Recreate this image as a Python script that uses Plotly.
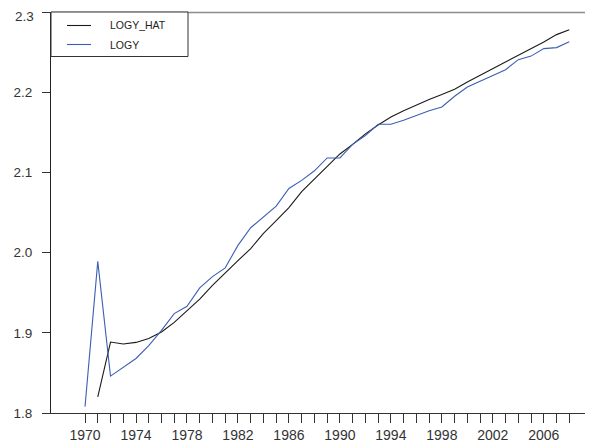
import plotly.graph_objects as go

years = list(range(1970, 2009))

logy = [1.808, 1.989, 1.846, 1.857, 1.868, 1.884, 1.903, 1.924, 1.933, 1.956,
        1.970, 1.981, 2.009, 2.031, 2.044, 2.058, 2.080, 2.090, 2.102, 2.118,
        2.118, 2.135, 2.146, 2.160, 2.160, 2.165, 2.171, 2.177, 2.1815, 2.195,
        2.2065, 2.2136, 2.2207, 2.228, 2.2406, 2.245, 2.2543, 2.2556, 2.263]

logy_hat = [None, 1.820, 1.8885, 1.886, 1.888, 1.893, 1.901, 1.913, 1.927, 1.942,
            1.959, 1.975, 1.990, 2.005, 2.024, 2.040, 2.056, 2.076, 2.092, 2.108,
            2.123, 2.135, 2.148, 2.159, 2.169, 2.177, 2.1845, 2.191, 2.197, 2.2036,
            2.2127, 2.221, 2.229, 2.237, 2.245, 2.2543, 2.2626, 2.2718, 2.278]

x_tickvals = years
x_ticktext = [str(y) if (y - 1970) % 4 == 0 else "" for y in years]
y_tickvals = [1.8, 1.9, 2.0, 2.1, 2.2, 2.3]
y_ticktext = ["1.8", "1.9", "2.0", "2.1", "2.2", "2.3"]
series_names = ["LOGY_HAT", "LOGY"]
series_colors = ["#1a1a1a", "#3d5fb3"]

fig = go.Figure()
fig.add_trace(go.Scatter(x=years, y=logy_hat, mode="lines", name=series_names[0],
                         line=dict(color=series_colors[0], width=1.1)))
fig.add_trace(go.Scatter(x=years, y=logy, mode="lines", name=series_names[1],
                         line=dict(color=series_colors[1], width=1.1)))

font_family = "Liberation Sans, Arial, sans-serif"

# page body has an 8px margin: figure starts at (8, 8)
PL, PT = 51, 12          # plot area left/top in page pixels
PR, PB = 593, 413        # plot area right/bottom in page pixels
W, H = 585, 440
pw = PR - PL
ph = PB - PT
def px(x):
    return (x - PL) / pw
def py(y):
    return (PB - y) / ph

# the top label is placed as an annotation so it is not clipped at the page edge
axis_ticktext = y_ticktext[:-1] + [""]

fig.update_layout(
    width=W, height=H,
    margin=dict(l=PL - 8, r=W - (PR - 8), t=PT - 8, b=H - (PB - 8)),
    paper_bgcolor="white", plot_bgcolor="white",
    showlegend=False,
    font=dict(family=font_family, color="#333333", size=13),
    xaxis=dict(range=[1967.33, 2009.86], tickvals=x_tickvals, ticktext=x_ticktext,
               ticks="outside", ticklen=9, tickwidth=1, tickcolor="#333333",
               showline=True, linecolor="#333333", linewidth=1,
               showgrid=False, zeroline=False, tickfont=dict(size=14),
               ticklabeloverflow="allow", automargin=False),
    xaxis2=dict(range=[1967.33, 2009.86], overlaying="x", side="top",
                showline=True, linecolor="#8c8c8c", linewidth=1.5,
                showticklabels=False, ticks="", showgrid=False, zeroline=False,
                automargin=False),
    yaxis=dict(range=[1.8, 2.3], tickvals=y_tickvals, ticktext=axis_ticktext,
               ticks="outside", ticklen=8, tickwidth=1, tickcolor="#333333",
               showline=True, linecolor="#222222", linewidth=1,
               showgrid=False, zeroline=False, tickfont=dict(size=13.5),
               ticklabelstandoff=7, ticklabeloverflow="allow", automargin=False),
)

fig.add_annotation(xref="paper", yref="paper", x=px(34.5), y=py(8.5),
                   text=y_ticktext[-1], showarrow=False, xanchor="right", yanchor="top",
                   borderpad=0,
                   font=dict(size=13.5, color="#333333", family=font_family))

# top border
fig.add_shape(type="line", xref="paper", yref="paper", x0=0, x1=1, y0=0.999, y1=0.999,
              line=dict(color="#8c8c8c", width=1.5), layer="above")

# legend box
fig.add_shape(type="rect", xref="paper", yref="paper", x0=0, x1=px(188), y0=py(56.5), y1=1,
              line=dict(color="#333333", width=1), fillcolor="white", layer="above")
legend_ys = [py(25.5), py(44.5)]
for name, color, ly in zip(series_names, series_colors, legend_ys):
    fig.add_shape(type="line", xref="paper", yref="paper",
                  x0=px(67), x1=px(91), y0=ly, y1=ly,
                  line=dict(color=color, width=1.1), layer="above")
    fig.add_annotation(xref="paper", yref="paper", x=px(108), y=ly,
                       text=name, showarrow=False, xanchor="left", yanchor="middle",
                       font=dict(size=10.5, color="#222222", family=font_family))

fig.write_html("out.html")
